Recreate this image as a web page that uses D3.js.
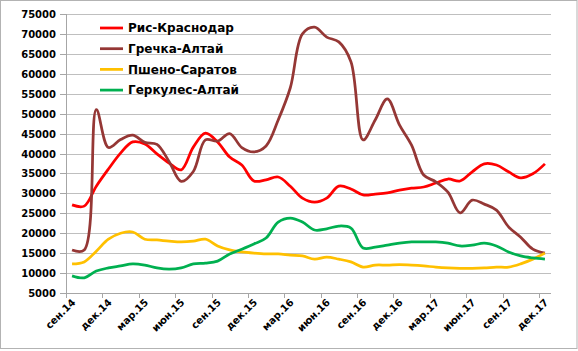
<!DOCTYPE html>
<html>
<head>
    <meta charset="UTF-8">
    <title>Крупы</title>
    <script src="https://d3js.org/d3.v7.min.js"></script>
    <style>
        body { margin: 0; background: white; }
        text { font-family: "DejaVu Sans", sans-serif; font-weight: bold; fill: #000; }
        .tick-label { font-size: 10px; }
        .legend-label { font-size: 12px; }
    </style>
</head>
<body>
<script>
    var width = 578, height = 351;

    // months, Sep 2014 .. Dec 2017
    var months = [
        "сен.14", "окт.14", "ноя.14", "дек.14", "янв.15", "фев.15", "мар.15", "апр.15", "май.15", "июн.15",
        "июл.15", "авг.15", "сен.15", "окт.15", "ноя.15", "дек.15", "янв.16", "фев.16", "мар.16", "апр.16",
        "май.16", "июн.16", "июл.16", "авг.16", "сен.16", "окт.16", "ноя.16", "дек.16", "янв.17", "фев.17",
        "мар.17", "апр.17", "май.17", "июн.17", "июл.17", "авг.17", "сен.17", "окт.17", "ноя.17", "дек.17"
    ];
    var yTicks = [5000, 10000, 15000, 20000, 25000, 30000, 35000, 40000, 45000, 50000, 55000, 60000, 65000, 70000, 75000];

    var seriesNames = ["Рис-Краснодар", "Гречка-Алтай", "Пшено-Саратов", "Геркулес-Алтай"];
    var seriesColors = ["#ff0000", "#953735", "#ffc000", "#00b050"];

    var rice = [27100, 26800, 31800, 36100, 40100, 42900, 42400, 39900, 37600, 35900,
        41600, 45100, 42900, 39100, 37100, 33100, 33400, 34100, 31800, 28800,
        27800, 28800, 31800, 31100, 29600, 29800, 30100, 30800, 31300, 31600,
        32600, 33600, 33100, 35400, 37400, 37100, 35400, 33900, 34900, 37400];
    var buckwheat = [15800, 15800, 51000, 41500, 43500, 44600, 42800, 42300, 38000, 33000,
        35500, 43400, 43100, 45000, 41500, 40400, 41900, 48400, 56500, 70000,
        71700, 69200, 68000, 63000, 43400, 48400, 53700, 47200, 42100, 34600,
        32900, 30300, 25100, 28300, 27300, 25800, 21600, 19000, 16000, 15000];
    var millet = [12300, 12800, 15500, 18500, 20000, 20300, 18500, 18300, 18000, 17800,
        18000, 18500, 16800, 15800, 15300, 15000, 14800, 14800, 14500, 14300,
        13500, 14000, 13500, 12800, 11500, 12000, 12000, 12100, 12000, 11800,
        11500, 11300, 11200, 11200, 11300, 11500, 11500, 12300, 13500, 15000];
    var oats = [9300, 8800, 10500, 11300, 11800, 12300, 12000, 11300, 11000, 11300,
        12300, 12500, 13000, 14800, 16000, 17300, 18800, 22800, 23800, 22800,
        20800, 21100, 21800, 21300, 16300, 16500, 17000, 17500, 17800, 17800,
        17800, 17500, 16800, 17000, 17500, 16800, 15300, 14300, 13800, 13500];

    var seriesValues = [rice, buckwheat, millet, oats];

    var plot = { left: 66, right: 551, top: 14, bottom: 293 };

    var svg = d3.select("body").append("svg")
        .attr("width", width).attr("height", height);

    // outer frame
    svg.append("rect")
        .attr("x", 0.5).attr("y", 0.5)
        .attr("width", 576.5).attr("height", 348)
        .attr("fill", "white").attr("stroke", "#b3b3b3");

    var x = d3.scaleBand().domain(months).range([plot.left, plot.right]);
    var y = d3.scaleLinear().domain([5000, 75000]).range([plot.bottom, plot.top]);

    // gridlines
    svg.append("g").selectAll("line").data(yTicks.slice(1)).enter()
        .append("line")
        .attr("x1", plot.left).attr("x2", plot.right)
        .attr("y1", function (d) { return Math.round(y(d)) + 0.5; })
        .attr("y2", function (d) { return Math.round(y(d)) + 0.5; })
        .attr("stroke", "#bfbfbf");

    // y axis
    var yAxis = svg.append("g");
    yAxis.append("line")
        .attr("x1", plot.left + 0.5).attr("x2", plot.left + 0.5)
        .attr("y1", plot.top).attr("y2", plot.bottom)
        .attr("stroke", "#a6a6a6");
    var yt = yAxis.selectAll("g").data(yTicks).enter().append("g")
        .attr("transform", function (d) { return "translate(0," + (Math.round(y(d)) + 0.5) + ")"; });
    yt.append("line").attr("x1", plot.left - 6).attr("x2", plot.left).attr("stroke", "#a6a6a6");
    yt.append("text").classed("tick-label", true)
        .attr("x", plot.left - 10).attr("dy", "0.36em")
        .attr("text-anchor", "end")
        .text(function (d) { return d; });

    // x axis
    var xAxis = svg.append("g");
    xAxis.append("line")
        .attr("x1", plot.left).attr("x2", plot.right)
        .attr("y1", plot.bottom + 0.5).attr("y2", plot.bottom + 0.5)
        .attr("stroke", "#a6a6a6");
    var shown = months.filter(function (d, i) { return i % 3 === 0; });
    var xt = xAxis.selectAll("g").data(shown).enter().append("g");
    xt.append("line")
        .attr("x1", function (d) { return Math.round(x(d)) + 0.5; })
        .attr("x2", function (d) { return Math.round(x(d)) + 0.5; })
        .attr("y1", plot.bottom).attr("y2", plot.bottom + 5)
        .attr("stroke", "#a6a6a6");
    xt.append("text").classed("tick-label", true)
        .attr("text-anchor", "end")
        .attr("transform", function (d) {
            return "translate(" + (x(d) + x.bandwidth() / 2 + 4) + "," + (plot.bottom + 10) + ") rotate(-45)";
        })
        .text(function (d) { return d; });

    // lines
    var line = d3.line()
        .x(function (d, i) { return x(months[i]) + x.bandwidth() / 2; })
        .y(function (d) { return y(d); })
        .curve(d3.curveCatmullRom.alpha(0.5));

    svg.append("g").selectAll("path").data(seriesValues).enter()
        .append("path")
        .attr("d", line)
        .attr("fill", "none")
        .attr("stroke", function (d, i) { return seriesColors[i]; })
        .attr("stroke-width", 2.75)
        .attr("stroke-linejoin", "round");

    // legend
    var legend = svg.append("g").selectAll("g").data(seriesNames).enter().append("g")
        .attr("transform", function (d, i) { return "translate(100," + (28 + i * 20.7) + ")"; });
    legend.append("line")
        .attr("x1", 0).attr("x2", 23)
        .attr("stroke", function (d, i) { return seriesColors[i]; })
        .attr("stroke-width", 2.75);
    legend.append("text").classed("legend-label", true)
        .attr("x", 28).attr("dy", "0.36em")
        .text(function (d) { return d; });
</script>
</body>
</html>
